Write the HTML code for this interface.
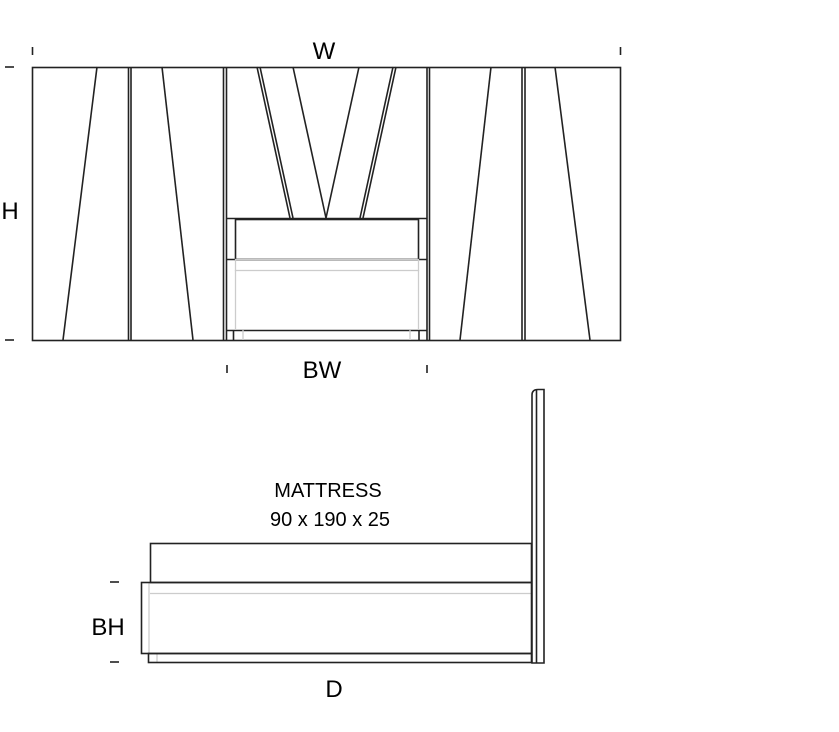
<!DOCTYPE html>
<html><head><meta charset="utf-8"><style>
html,body{margin:0;padding:0;background:#fff;}
svg{display:block;}
text{font-family:"Liberation Sans","DejaVu Sans",sans-serif;fill:#000;}
</style></head><body>
<svg width="839" height="732" viewBox="0 0 839 732" xmlns="http://www.w3.org/2000/svg">
<g fill="none" stroke="#222" stroke-width="1.6">
<rect x="32.5" y="67.5" width="588" height="273"/>
<line x1="128.5" y1="67" x2="128.5" y2="340"/><line x1="131" y1="67" x2="131" y2="340"/>
<line x1="223.5" y1="67" x2="223.5" y2="340"/><line x1="226.5" y1="67" x2="226.5" y2="340"/>
<line x1="427" y1="67" x2="427" y2="340"/><line x1="429.5" y1="67" x2="429.5" y2="340"/>
<line x1="522" y1="67" x2="522" y2="340"/><line x1="525" y1="67" x2="525" y2="340"/>
<line x1="97" y1="67" x2="63" y2="340"/>
<line x1="162" y1="67" x2="193" y2="340"/>
<line x1="491" y1="67" x2="460" y2="340"/>
<line x1="555" y1="67" x2="590" y2="340"/>
<line x1="257" y1="67" x2="290" y2="218"/><line x1="260" y1="67" x2="293" y2="218"/>
<line x1="293" y1="67" x2="326" y2="218"/><line x1="359" y1="67" x2="326" y2="218"/>
<line x1="393" y1="67" x2="360" y2="218"/><line x1="396" y1="67" x2="363" y2="218"/>
<line x1="227" y1="218.5" x2="427" y2="218.5"/>
<rect x="235.5" y="219.5" width="183" height="40"/>
<line x1="227" y1="259.5" x2="427" y2="259.5"/>
<line x1="227" y1="330.5" x2="427" y2="330.5"/>
<line x1="233.5" y1="330" x2="233.5" y2="340"/><line x1="419" y1="330" x2="419" y2="340"/>
</g>
<g fill="none" stroke="#ccc" stroke-width="1.3">
<rect x="235.5" y="259.5" width="183" height="11"/>
<line x1="235.5" y1="270" x2="235.5" y2="330"/><line x1="418.5" y1="270" x2="418.5" y2="330"/>
<line x1="243" y1="330" x2="243" y2="340"/><line x1="410" y1="330" x2="410" y2="340"/>
<line x1="150" y1="593.5" x2="532" y2="593.5"/>
<line x1="149" y1="582" x2="149" y2="653"/>
<line x1="157" y1="653" x2="157" y2="663"/>
</g>
<g stroke="#222" stroke-width="1.6">
<line x1="32.5" y1="47" x2="32.5" y2="55"/><line x1="620.5" y1="47" x2="620.5" y2="55"/>
<line x1="5" y1="67" x2="14" y2="67"/><line x1="5" y1="340" x2="14" y2="340"/>
<line x1="227" y1="365" x2="227" y2="373"/><line x1="427" y1="365" x2="427" y2="373"/>
<line x1="110" y1="582" x2="119" y2="582"/><line x1="110" y1="662" x2="119" y2="662"/>
</g>
<g fill="none" stroke="#222" stroke-width="1.6">
<rect x="150.5" y="543.5" width="381" height="39"/>
<rect x="141.5" y="582.5" width="390" height="71"/>
<rect x="148.5" y="653.5" width="383" height="9"/>
<path d="M532 663 L532 395 Q532 389.5 538 389.5 L544 389.5 L544 663 Z"/>
<line x1="536.5" y1="389.5" x2="536.5" y2="663"/>
</g>
<text x="324" y="59" font-size="24" text-anchor="middle">W</text>
<text x="10" y="219" font-size="24" text-anchor="middle">H</text>
<text x="322" y="378" font-size="24" text-anchor="middle">BW</text>
<text x="328" y="497" font-size="20" text-anchor="middle">MATTRESS</text>
<text x="330" y="526" font-size="20" text-anchor="middle">90 x 190 x 25</text>
<text x="108" y="635" font-size="24" text-anchor="middle">BH</text>
<text x="334" y="697" font-size="24" text-anchor="middle">D</text>
</svg>
</body></html>
